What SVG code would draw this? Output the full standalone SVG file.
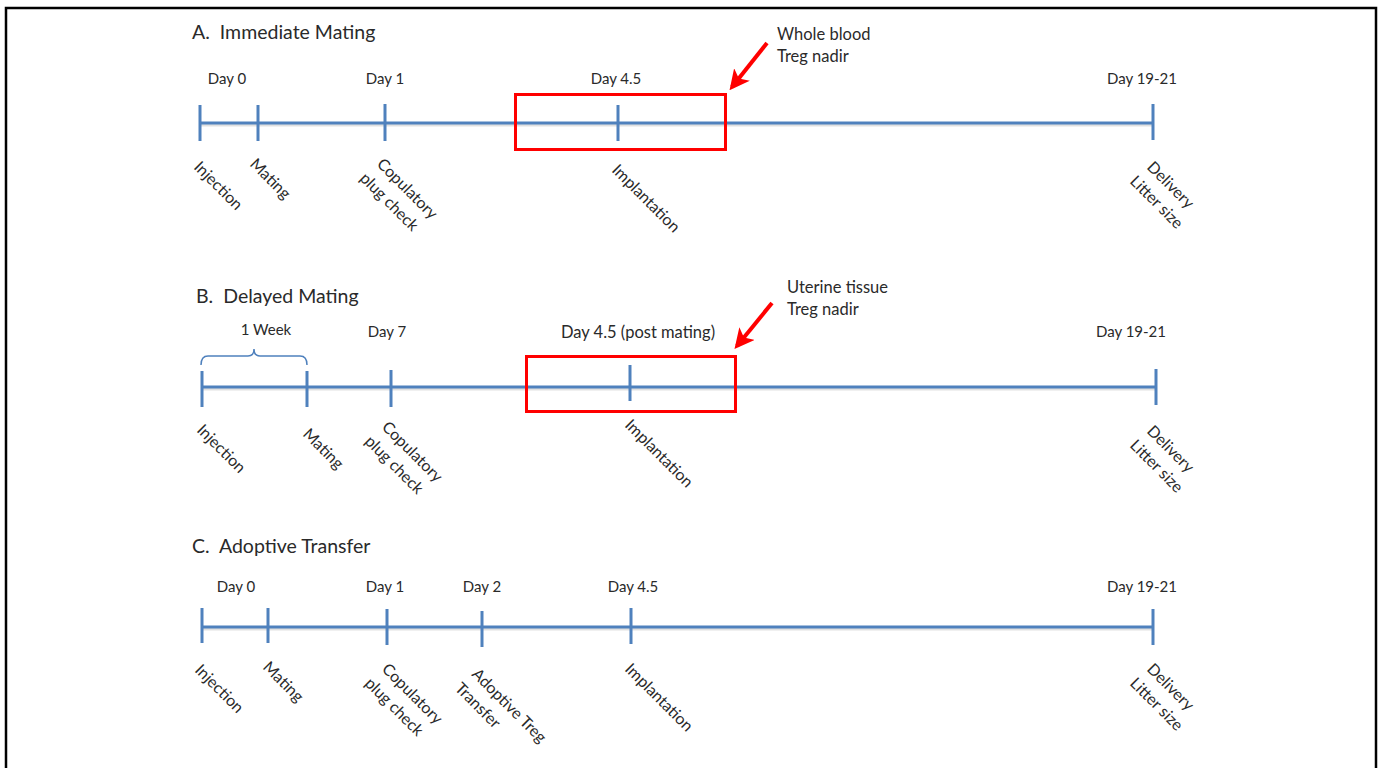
<svg xmlns="http://www.w3.org/2000/svg" width="1380" height="768" viewBox="0 0 1380 768">
<style>
  text { font-family: Lato, "Liberation Sans", sans-serif; fill: #2a2a2a; }
  .title { font-size: 19.5px; white-space: pre; }
  .day { font-size: 15px; text-anchor: middle; }
  .lbl { font-size: 16px; }
  .note { font-size: 16.5px; }
  .axis { stroke: #4f81bd; stroke-width: 3; fill: none; }
  .axsh { stroke: #000; stroke-opacity: 0.12; stroke-width: 3; fill: none; }
  .tick { stroke: #4f81bd; stroke-width: 3; fill: none; }
  .box { stroke: #ff0000; stroke-width: 3; fill: none; }
  .ptr { stroke: #ff0000; stroke-width: 4; fill: none; marker-end: url(#ah); }
  .brace { stroke: #4f81bd; stroke-width: 1.5; fill: none; }
</style>
<defs>
  <marker id="ah" viewBox="0 0 10 10" refX="8" refY="5" markerWidth="5" markerHeight="5" orient="auto" markerUnits="strokeWidth">
    <path d="M0,0 L10,5 L0,10 L2.5,5 z" fill="#ff0000"/>
  </marker>
</defs>
<rect x="6" y="8" width="1370" height="780" fill="none" stroke="#000" stroke-width="2.5"/>

<!-- Panel A -->
<g id="panelA">
  <text class="title" x="192" y="39" xml:space="preserve">A.  Immediate Mating</text>
  <text class="day" x="227" y="84">Day 0</text>
  <text class="day" x="385" y="84">Day 1</text>
  <text class="day" x="616" y="84">Day 4.5</text>
  <text class="day" x="1142" y="84">Day 19-21</text>
  <g id="A-lbl-injection" transform="translate(193,168) rotate(45)"><text class="lbl">Injection</text></g>
  <g id="A-lbl-mating" transform="translate(249,165) rotate(45)"><text class="lbl">Mating</text></g>
  <g id="A-lbl-plug" transform="translate(376,165) rotate(45)"><text class="lbl"><tspan x="0" y="0">Copulatory</tspan><tspan x="-2" y="22">plug check</tspan></text></g>
  <g id="A-lbl-implant" transform="translate(611,171) rotate(45)"><text class="lbl">Implantation</text></g>
  <g id="A-lbl-delivery" transform="translate(1146,168) rotate(45)"><text class="lbl"><tspan x="0" y="0">Delivery</tspan><tspan x="-2" y="22">Litter size</tspan></text></g>
  <text class="note" x="777" y="40">Whole blood</text>
  <text class="note" x="777" y="62">Treg nadir</text>
</g>

<!-- Panel B -->
<g id="panelB">
  <text class="title" x="196" y="303" xml:space="preserve">B.  Delayed Mating</text>
  <text class="day" x="266" y="335">1 Week</text>
  <text class="day" x="387" y="337">Day 7</text>
  <text class="day" x="638" y="338" style="font-size:16.5px">Day 4.5 (post mating)</text>
  <text class="day" x="1131" y="337">Day 19-21</text>
  <g id="B-lbl-injection" transform="translate(196,431) rotate(45)"><text class="lbl">Injection</text></g>
  <g id="B-lbl-mating" transform="translate(302,435) rotate(45)"><text class="lbl">Mating</text></g>
  <g id="B-lbl-plug" transform="translate(381,428) rotate(45)"><text class="lbl"><tspan x="0" y="0">Copulatory</tspan><tspan x="-2" y="22">plug check</tspan></text></g>
  <g id="B-lbl-implant" transform="translate(624,426) rotate(45)"><text class="lbl">Implantation</text></g>
  <g id="B-lbl-delivery" transform="translate(1146,432) rotate(45)"><text class="lbl"><tspan x="0" y="0">Delivery</tspan><tspan x="-2" y="22">Litter size</tspan></text></g>
  <text class="note" x="787" y="293">Uterine tissue</text>
  <text class="note" x="787" y="315">Treg nadir</text>
</g>

<!-- Panel C -->
<g id="panelC">
  <text class="title" x="192" y="553" xml:space="preserve">C.  Adoptive Transfer</text>
  <text class="day" x="236" y="592">Day 0</text>
  <text class="day" x="385" y="592">Day 1</text>
  <text class="day" x="482" y="592">Day 2</text>
  <text class="day" x="633" y="592">Day 4.5</text>
  <text class="day" x="1142" y="592">Day 19-21</text>
  <g id="C-lbl-injection" transform="translate(194,671) rotate(45)"><text class="lbl">Injection</text></g>
  <g id="C-lbl-mating" transform="translate(262,668) rotate(45)"><text class="lbl">Mating</text></g>
  <g id="C-lbl-plug" transform="translate(381,670) rotate(45)"><text class="lbl"><tspan x="0" y="0">Copulatory</tspan><tspan x="-2" y="22">plug check</tspan></text></g>
  <g id="C-lbl-transfer" transform="translate(471,675) rotate(45)"><text class="lbl"><tspan x="0" y="0">Adoptive Treg</tspan><tspan x="-2" y="22">Transfer</tspan></text></g>
  <g id="C-lbl-implant" transform="translate(624,670) rotate(45)"><text class="lbl">Implantation</text></g>
  <g id="C-lbl-delivery" transform="translate(1146,670) rotate(45)"><text class="lbl"><tspan x="0" y="0">Delivery</tspan><tspan x="-2" y="22">Litter size</tspan></text></g>
</g>

<!-- Connectors: timelines, ticks, boxes, arrows -->
<g id="connectors">
  <line class="axsh" x1="201" y1="125" x2="1154" y2="125"/>
  <line class="axis" x1="200" y1="123" x2="1153" y2="123"/>
  <line class="tick" x1="200" y1="105" x2="200" y2="141"/>
  <line class="tick" x1="258" y1="105" x2="258" y2="141"/>
  <line class="tick" x1="385" y1="104" x2="385" y2="141"/>
  <line class="tick" x1="618" y1="105" x2="618" y2="141"/>
  <line class="tick" x1="1153" y1="104" x2="1153" y2="140"/>
  <rect class="box" x="515.5" y="94.5" width="210" height="55"/>
  <line class="ptr" x1="767" y1="43" x2="732" y2="87"/>

  <line class="axsh" x1="203" y1="389" x2="1157" y2="389"/>
  <line class="axis" x1="202" y1="387" x2="1156" y2="387"/>
  <line class="tick" x1="202" y1="371" x2="202" y2="407"/>
  <line class="tick" x1="307" y1="371" x2="307" y2="407"/>
  <line class="tick" x1="391" y1="370" x2="391" y2="407"/>
  <line class="tick" x1="630" y1="365" x2="630" y2="401"/>
  <line class="tick" x1="1156" y1="369" x2="1156" y2="405"/>
  <rect class="box" x="526.5" y="356.5" width="209" height="55"/>
  <line class="ptr" x1="772" y1="303" x2="737" y2="346"/>
  <path class="brace" d="M201,365 Q201,356 208,356 L248,356 Q254,356 254,349 Q254,356 260,356 L300,356 Q307,356 307,365"/>

  <line class="axsh" x1="203" y1="629" x2="1154" y2="629"/>
  <line class="axis" x1="202" y1="627" x2="1153" y2="627"/>
  <line class="tick" x1="202" y1="608" x2="202" y2="643"/>
  <line class="tick" x1="268" y1="608" x2="268" y2="643"/>
  <line class="tick" x1="387" y1="609" x2="387" y2="645"/>
  <line class="tick" x1="482" y1="611" x2="482" y2="647"/>
  <line class="tick" x1="631" y1="608" x2="631" y2="644"/>
  <line class="tick" x1="1153" y1="609" x2="1153" y2="645"/>
</g>
</svg>
